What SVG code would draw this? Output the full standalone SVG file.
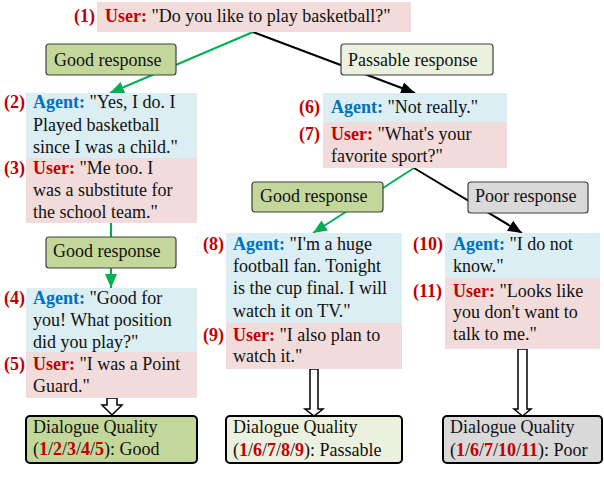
<svg xmlns="http://www.w3.org/2000/svg" width="604" height="498" viewBox="0 0 604 498" font-family="Liberation Serif, DejaVu Serif, serif" font-size="18">
<defs>
<style>
text{fill:#111}
.n{fill:#c00000;font-weight:bold}
.u{fill:#c00000;font-weight:bold}
.a{fill:#0070c0;font-weight:bold}
.pink{fill:#f2dcdb}
.blue{fill:#daeef3}
.lab{stroke:#404040;stroke-width:1.2}
.g{fill:#c4d79b}
.p{fill:#ebf1de}
.r{fill:#d9d9d9}
.q{stroke:#000;stroke-width:2}
.ln{fill:none;stroke-width:2}
.blk{fill:#fff;stroke:#000;stroke-width:1.5}
</style>
<marker id="ag" markerUnits="userSpaceOnUse" markerWidth="16" markerHeight="14" refX="14" refY="6" orient="auto" viewBox="0 0 16 12">
<path d="M0,0 L14,6 L0,12 Z" fill="#00b050"/>
</marker>
<marker id="ak" markerUnits="userSpaceOnUse" markerWidth="16" markerHeight="14" refX="14" refY="6" orient="auto" viewBox="0 0 16 12">
<path d="M0,0 L14,6 L0,12 Z" fill="#000"/>
</marker>
</defs>
<rect width="604" height="498" fill="#fff"/>

<g id="connectors">
<line class="ln" x1="253" y1="32" x2="110" y2="93" stroke="#00b050" marker-end="url(#ag)"/>
<line class="ln" x1="253" y1="32" x2="415" y2="93" stroke="#000" marker-end="url(#ak)"/>
<line class="ln" x1="111" y1="223" x2="111" y2="288" stroke="#00b050" marker-end="url(#ag)"/>
<line class="ln" x1="414" y1="168" x2="313" y2="233" stroke="#00b050" marker-end="url(#ag)"/>
<line class="ln" x1="414" y1="168" x2="522" y2="233" stroke="#000" marker-end="url(#ak)"/>
<path class="blk" d="M107,398 H117 V405 H122 L112,415 L102,405 H107 Z"/>
<path class="blk" d="M310,369 H318 V409 H323 L314,416 L305,409 H310 Z"/>
<path class="blk" d="M518,349 H527 V409 H531 L522.5,416 L514,409 H518 Z"/>
</g>

<g id="turn1">
<rect class="pink" x="97" y="2" width="314" height="30"/>
<text x="74" y="22"><tspan class="n">(1)</tspan> <tspan class="u" x="105">User:</tspan> "Do you like to play basketball?"</text>
</g>

<g id="label-good1">
<rect class="lab g" x="46" y="44" width="130" height="31" rx="3"/>
<text x="54" y="66">Good response</text>
</g>
<g id="label-passable">
<rect class="lab p" x="341" y="44" width="152" height="31" rx="3"/>
<text x="348" y="66">Passable response</text>
</g>

<g id="turn2">
<rect class="blue" x="26" y="93" width="171" height="65"/>
<text x="4" y="108" class="n">(2)</text>
<text x="33" y="108"><tspan class="a">Agent:</tspan> "Yes, I do. I</text>
<text x="33" y="131">Played basketball</text>
<text x="33" y="153">since I was a child."</text>
</g>
<g id="turn3">
<rect class="pink" x="26" y="158" width="171" height="65"/>
<text x="4" y="174" class="n">(3)</text>
<text x="33" y="174"><tspan class="u">User:</tspan> "Me too. I</text>
<text x="33" y="196">was a substitute for</text>
<text x="33" y="218">the school team."</text>
</g>

<g id="label-good2">
<rect class="lab g" x="46" y="237" width="130" height="31" rx="3"/>
<text x="53" y="257">Good response</text>
</g>

<g id="turn4">
<rect class="blue" x="26" y="288" width="171" height="64"/>
<text x="4" y="304" class="n">(4)</text>
<text x="33" y="304"><tspan class="a">Agent:</tspan> "Good for</text>
<text x="33" y="326">you! What position</text>
<text x="33" y="348">did you play?"</text>
</g>
<g id="turn5">
<rect class="pink" x="26" y="352" width="171" height="46"/>
<text x="4" y="370" class="n">(5)</text>
<text x="33" y="370"><tspan class="u">User:</tspan> "I was a Point</text>
<text x="33" y="392">Guard."</text>
</g>

<g id="turn6">
<rect class="blue" x="323" y="93" width="184" height="29"/>
<text x="299" y="113" class="n">(6)</text>
<text x="331" y="113"><tspan class="a">Agent:</tspan> "Not really."</text>
</g>
<g id="turn7">
<rect class="pink" x="323" y="122" width="184" height="46"/>
<text x="299" y="140" class="n">(7)</text>
<text x="331" y="140"><tspan class="u">User:</tspan> "What's your</text>
<text x="331" y="162">favorite sport?"</text>
</g>

<g id="label-good3">
<rect class="lab g" x="252" y="182" width="131" height="30" rx="3"/>
<text x="260" y="202">Good response</text>
</g>
<g id="label-poor">
<rect class="lab r" x="468" y="182" width="120" height="31" rx="3"/>
<text x="475" y="202">Poor response</text>
</g>

<g id="turn8">
<rect class="blue" x="226" y="233" width="176" height="90"/>
<text x="203" y="250" class="n">(8)</text>
<text x="233" y="250"><tspan class="a">Agent:</tspan> "I'm a huge</text>
<text x="233" y="272">football fan. Tonight</text>
<text x="233" y="294">is the cup final. I will</text>
<text x="233" y="317">watch it on TV."</text>
</g>
<g id="turn9">
<rect class="pink" x="226" y="323" width="176" height="46"/>
<text x="203" y="341" class="n">(9)</text>
<text x="233" y="341"><tspan class="u">User:</tspan> "I also plan to</text>
<text x="233" y="362">watch it."</text>
</g>

<g id="turn10">
<rect class="blue" x="445" y="233" width="155" height="45"/>
<text x="413" y="250" class="n">(10)</text>
<text x="453" y="250"><tspan class="a">Agent:</tspan> "I do not</text>
<text x="453" y="272">know."</text>
</g>
<g id="turn11">
<rect class="pink" x="445" y="278" width="155" height="71"/>
<text x="413" y="297" class="n">(11)</text>
<text x="453" y="297"><tspan class="u">User:</tspan> "Looks like</text>
<text x="453" y="318">you don't want to</text>
<text x="453" y="340">talk to me."</text>
</g>

<g id="quality-good">
<rect class="q g" x="26" y="416" width="171" height="47" rx="4"/>
<text x="33" y="433">Dialogue Quality</text>
<text x="33" y="455">(<tspan class="n">1</tspan>/<tspan class="n">2</tspan>/<tspan class="n">3</tspan>/<tspan class="n">4</tspan>/<tspan class="n">5</tspan>): Good</text>
</g>
<g id="quality-passable">
<rect class="q p" x="226" y="416" width="176" height="47" rx="4"/>
<text x="233" y="433">Dialogue Quality</text>
<text x="233" y="456">(<tspan class="n">1</tspan>/<tspan class="n">6</tspan>/<tspan class="n">7</tspan>/<tspan class="n">8</tspan>/<tspan class="n">9</tspan>): Passable</text>
</g>
<g id="quality-poor">
<rect class="q r" x="443" y="416" width="159" height="47" rx="4"/>
<text x="450" y="433">Dialogue Quality</text>
<text x="450" y="456">(<tspan class="n">1</tspan>/<tspan class="n">6</tspan>/<tspan class="n">7</tspan>/<tspan class="n">10</tspan>/<tspan class="n">11</tspan>): Poor</text>
</g>
</svg>
